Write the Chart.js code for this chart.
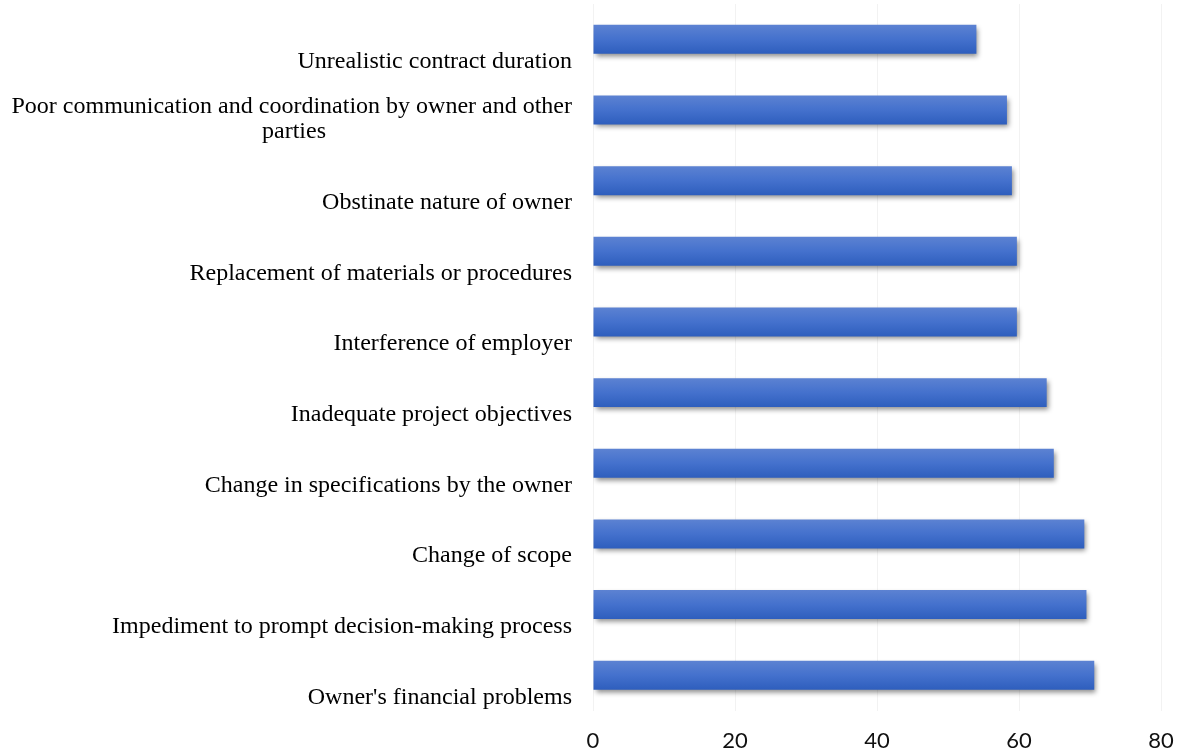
<!DOCTYPE html>
<html>
<head>
<meta charset="utf-8">
<script src="https://cdn.jsdelivr.net/npm/chart.js@4"></script>
<style>
    html, body { margin: 0; padding: 0; background: #fff; }
    #wrap { width: 1183px; height: 756px; }
</style>
</head>
<body>
<div id="wrap"><canvas id="bar-chart"></canvas></div>
<script>
    // categories, top to bottom
    const categories = [
        'Unrealistic contract duration',
        ['Poor communication and coordination by owner and other', 'parties' + '\u00a0'.repeat(41), ''],
        'Obstinate nature of owner',
        'Replacement of materials or procedures',
        'Interference of employer',
        'Inadequate project objectives',
        'Change in specifications by the owner',
        'Change of scope',
        'Impediment to prompt decision-making process',
        "Owner's financial problems"
    ];
    const values = [54, 58.3, 59, 59.7, 59.7, 63.9, 64.9, 69.2, 69.5, 70.6];
    const xTicks = [0, 20, 40, 60, 80];
    const barShare = 0.41;

    const barShadow = {
        id: 'barShadow',
        beforeDatasetDraw(chart) {
            const c = chart.ctx;
            c.save();
            c.shadowColor = 'rgba(0, 0, 0, 0.45)';
            c.shadowBlur = 5;
            c.shadowOffsetX = 2;
            c.shadowOffsetY = 3;
        },
        afterDatasetDraw(chart) {
            chart.ctx.restore();
        }
    };

    function barGradient(context) {
        const chart = context.chart;
        const yScale = chart.scales && chart.scales.y;
        if (!chart.chartArea || !yScale || !yScale.height) {
            return '#4471cd';
        }
        const center = yScale.getPixelForValue(context.dataIndex);
        const half = yScale.height / categories.length * barShare / 2;
        const g = chart.ctx.createLinearGradient(0, center - half, 0, center + half);
        g.addColorStop(0, '#5c82d2');
        g.addColorStop(0.5, '#4471cd');
        g.addColorStop(1, '#2e5ebd');
        return g;
    }

    const ctx = document.getElementById('bar-chart').getContext('2d');
    const chart = new Chart(ctx, {
        type: 'bar',
        data: {
            labels: categories,
            datasets: [{
                data: values,
                backgroundColor: barGradient,
                borderWidth: 0,
                barPercentage: barShare,
                categoryPercentage: 1
            }]
        },
        options: {
            indexAxis: 'y',
            responsive: true,
            maintainAspectRatio: false,
            animation: false,
            layout: {
                padding: { top: 4, right: 22, bottom: -15, left: 0 }
            },
            scales: {
                x: {
                    min: 0,
                    max: 80,
                    afterBuildTicks: function (axis) {
                        axis.ticks = xTicks.map(v => ({ value: v }));
                    },
                    afterFit: function (axis) {
                        axis.paddingLeft = 0;
                        axis.paddingRight = 0;
                    },
                    grid: {
                        color: 'rgba(0, 0, 0, 0.05)',
                        drawTicks: false
                    },
                    border: { display: false },
                    ticks: {
                        color: '#111',
                        padding: 17,
                        font: { family: 'Lato', size: 22 }
                    }
                },
                y: {
                    afterFit: function (axis) {
                        axis.width = 593;
                        axis.paddingTop = 0;
                        axis.paddingBottom = 0;
                    },
                    grid: { display: false, drawTicks: false },
                    border: { display: false },
                    ticks: {
                        autoSkip: false,
                        color: '#000',
                        padding: 21,
                        labelOffset: 22,
                        font: { family: 'Liberation Serif', size: 24, lineHeight: 1.05 }
                    }
                }
            },
            plugins: {
                legend: { display: false },
                tooltip: { enabled: false }
            }
        },
        plugins: [barShadow]
    });
</script>
</body>
</html>
